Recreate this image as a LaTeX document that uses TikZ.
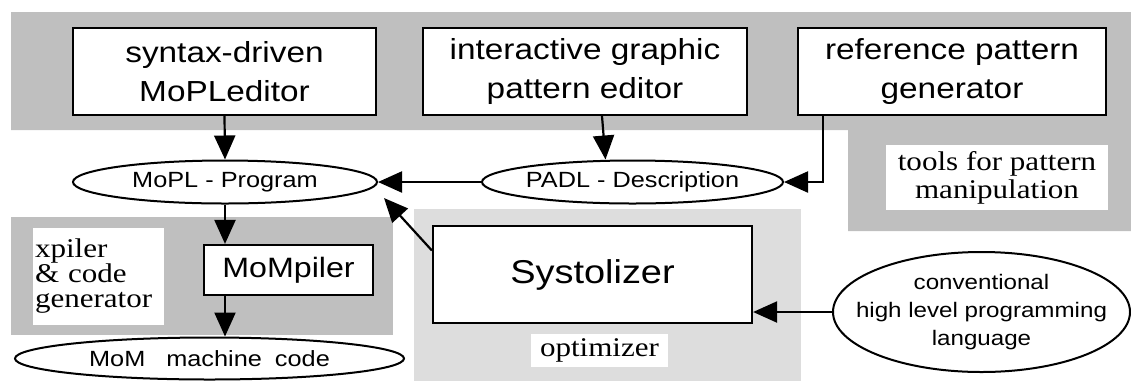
\documentclass[tikz,border=0pt]{standalone}
\usepackage{fontspec}
\usetikzlibrary{shapes.geometric,arrows.meta}
\newfontfamily\sfw[FakeStretch=1.15]{Liberation Sans}
\newfontfamily\rmw[FakeStretch=1.15]{Liberation Serif}
\definecolor{toolgray}{gray}{0.75}
\definecolor{optgray}{gray}{0.865}

\begin{document}
\begin{tikzpicture}[x=1pt,y=-1pt,
  box/.style={draw,line width=2.2pt,fill=white,inner sep=0pt,align=center,font=\sfw\fontsize{29}{39}\selectfont},
  oval/.style={ellipse,draw,line width=2pt,fill=white,inner sep=-200pt,align=center,font=\sfw\fontsize{22}{28}\selectfont},
  arr/.style={-{Stealth[length=24pt,width=21pt,inset=0pt]},line width=2.2pt},
  lbl/.style={fill=white,inner sep=0pt,align=center,font=\rmw\fontsize{27}{28}\selectfont}]

\useasboundingbox (0,0) rectangle (1131,381);

%gray areas
\fill[toolgray] (11,12) -- (1131,12) -- (1131,231) -- (848,231) -- (848,130) -- (11,130) -- cycle;
\fill[toolgray] (11,217) rectangle (393,335);
\fill[optgray] (414,209) rectangle (801,381);

%labels of the areas
\node[lbl,minimum width=222pt,minimum height=65pt] (toolslbl) at (997,177.5) {tools for pattern\\manipulation};
\node[lbl,minimum width=137pt,minimum height=33pt] (optlbl) at (599.5,350.5) {optimizer};
\node[lbl,minimum width=131pt,minimum height=97pt,text width=127pt,align=left,font=\rmw\fontsize{27}{25}\selectfont] (xpilbl) at (98.5,276.5) {xpiler\\\& code\\generator};

%tools
\node[box,minimum width=303pt,minimum height=87pt] (editor) at (224.5,71.5) {syntax-driven\\MoPLeditor};
\node[box,minimum width=324pt,minimum height=87pt] (graphic) at (585,71.5) {interactive graphic\\pattern editor};
\node[box,minimum width=308pt,minimum height=87pt] (refgen) at (952,71.5) {reference pattern\\generator};
\node[box,minimum width=169pt,minimum height=50pt,font=\sfw\fontsize{28}{30}\selectfont] (mompiler) at (288.5,270) {MoMpiler};
\node[box,minimum width=319pt,minimum height=97pt,font=\sfw\fontsize{33}{36}\selectfont] (systolizer) at (592.5,274.5) {Systolizer};

%descriptions
\node[oval,minimum width=304pt,minimum height=43pt] (mopl) at (225,182) {MoPL - Program};
\node[oval,minimum width=301pt,minimum height=43pt] (padl) at (632.5,182) {PADL - Description};
\node[oval,minimum width=389pt,minimum height=42pt] (mom) at (209.5,358.5) {MoM \hspace{14pt}machine \hspace{6pt}code};
\node[oval,minimum width=297pt,minimum height=120pt,font=\sfw\fontsize{21}{28}\selectfont] (conv) at (981.5,312) {conventional\\high level programming\\language};

%connections
\draw[arr] (editor.south) -- (mopl.north);
\draw[arr] ([xshift=17pt]graphic.south) -- ([xshift=-27pt]padl.north);
\draw[arr] ([xshift=-129pt]refgen.south) |- (padl.east);
\draw[arr] (padl.west) -- (mopl.east);
\draw[arr] ([yshift=24pt]systolizer.west) -- ([xshift=6pt,yshift=-16pt]mopl.east);
\draw[arr] (mopl.south) -- (mopl.south |- mompiler.north);
\draw[arr] (mopl.south |- mompiler.south) -- (mopl.south |- mom.north);
\draw[arr] (conv.west) -- (conv.west -| systolizer.east);

\end{tikzpicture}
\end{document}
